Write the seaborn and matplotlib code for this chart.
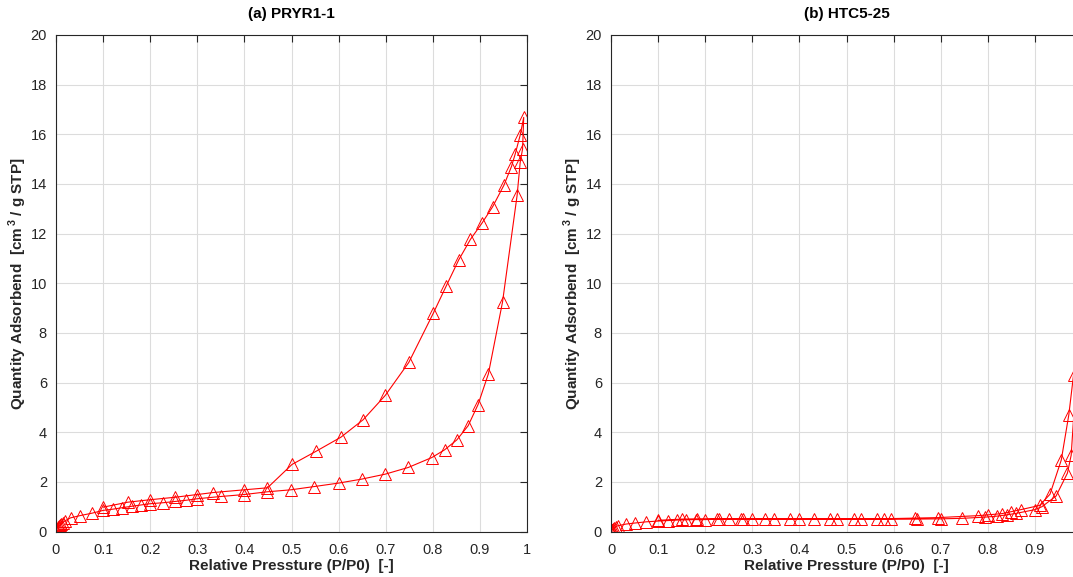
import numpy as np
import pandas as pd
import matplotlib
matplotlib.use("Agg")
import matplotlib.pyplot as plt
import seaborn as sns

# =========================
# DATA
# =========================
# (a) PRYR1-1 : adsorption branch then desorption branch
a_ads_p = [0.0005, 0.001, 0.002, 0.004, 0.006, 0.008, 0.010, 0.014, 0.020, 0.031,
           0.051, 0.077, 0.100, 0.121, 0.141, 0.162, 0.181, 0.200, 0.228, 0.253,
           0.277, 0.300, 0.350, 0.400, 0.449, 0.499, 0.548, 0.600, 0.649, 0.699,
           0.748, 0.798, 0.825, 0.851, 0.875, 0.896, 0.918, 0.948, 0.979, 0.9856,
           0.9906, 0.993]
a_ads_q = [0.05, 0.08, 0.12, 0.17, 0.22, 0.26, 0.30, 0.36, 0.44, 0.55,
           0.64, 0.74, 0.85, 0.90, 0.96, 1.02, 1.07, 1.12, 1.16, 1.21,
           1.26, 1.32, 1.41, 1.49, 1.60, 1.68, 1.81, 1.95, 2.11, 2.31,
           2.58, 2.98, 3.29, 3.69, 4.26, 5.11, 6.35, 9.24, 13.54, 14.88,
           15.41, 16.68]
a_des_p = [0.9856, 0.975, 0.967, 0.951, 0.927, 0.904, 0.880, 0.855, 0.828, 0.801,
           0.749, 0.699, 0.652, 0.605, 0.552, 0.501, 0.449, 0.400, 0.334, 0.300,
           0.253, 0.200, 0.152, 0.100]
a_des_q = [15.97, 15.21, 14.70, 13.95, 13.08, 12.41, 11.77, 10.94, 9.87, 8.79,
           6.81, 5.48, 4.50, 3.80, 3.23, 2.70, 1.76, 1.68, 1.57, 1.49,
           1.38, 1.28, 1.18, 0.98]

# (b) HTC5-25 : adsorption branch then desorption branch
b_ads_p = [0.0005, 0.001, 0.002, 0.003, 0.005, 0.007, 0.010, 0.014, 0.032, 0.050,
           0.075, 0.100, 0.120, 0.140, 0.160, 0.180, 0.200, 0.225, 0.250, 0.275,
           0.300, 0.347, 0.400, 0.465, 0.530, 0.580, 0.650, 0.700, 0.745, 0.795,
           0.820, 0.840, 0.860, 0.900, 0.915, 0.945, 0.969, 0.977, 0.994, 0.997]
b_ads_q = [0.02, 0.04, 0.06, 0.08, 0.11, 0.14, 0.18, 0.23, 0.30, 0.34,
           0.39, 0.42, 0.44, 0.46, 0.47, 0.48, 0.48, 0.49, 0.49, 0.49,
           0.49, 0.49, 0.49, 0.49, 0.49, 0.49, 0.50, 0.51, 0.53, 0.58,
           0.62, 0.67, 0.73, 0.88, 1.00, 1.43, 2.35, 3.07, 8.00, 9.00]
b_des_p = [0.982, 0.972, 0.956, 0.932, 0.910, 0.870, 0.850, 0.830, 0.800, 0.780,
           0.695, 0.645, 0.595, 0.565, 0.515, 0.480, 0.430, 0.380, 0.327, 0.280,
           0.230, 0.182, 0.150, 0.100]
b_des_q = [6.30, 4.70, 2.88, 1.50, 1.05, 0.88, 0.80, 0.72, 0.67, 0.64,
           0.56, 0.54, 0.52, 0.52, 0.52, 0.52, 0.52, 0.52, 0.52, 0.52,
           0.52, 0.51, 0.50, 0.45]

panels = [
    ("(a) PRYR1-1", a_ads_p + a_des_p, a_ads_q + a_des_q),
    ("(b) HTC5-25", b_ads_p + b_des_p, b_ads_q + b_des_q),
]

# =========================
# STYLE
# =========================
sns.set_style("white")
plt.rcParams["font.family"] = ["Liberation Sans", "DejaVu Sans"]
plt.rcParams["mathtext.fontset"] = "custom"
plt.rcParams["mathtext.rm"] = "Liberation Sans"
plt.rcParams["mathtext.bf"] = "Liberation Sans:bold"

txt = "#262626"
fig = plt.figure(figsize=(10.73, 5.77), dpi=100)

# right panel runs slightly past the figure edge, as in the cropped reference
positions = [[56 / 1073, 1 - 531.5 / 577, 471 / 1073, 496.5 / 577],
             [611 / 1073, 1 - 531.5 / 577, 471 / 1073, 496.5 / 577]]

for i, (pos, (title, p, q)) in enumerate(zip(positions, panels)):
    ax = fig.add_axes(pos)
    df = pd.DataFrame({"p": p, "q": q})
    sns.lineplot(data=df, x="p", y="q", ax=ax, sort=False, estimator=None,
                 color="red", lw=0.8, marker="^", markersize=8,
                 markerfacecolor="none", markeredgecolor="red", markeredgewidth=0.7)

    ax.set_xlim(0, 1)
    ax.set_ylim(0, 20)
    xt = np.arange(0, 1.01, 0.1)
    ax.set_xticks(xt)
    # last label of the right panel falls outside the cropped figure
    ax.set_xticklabels([f"{v:g}" if (i == 0 or v < 0.95) else "" for v in xt])
    ax.set_yticks(np.arange(0, 21, 2))
    ax.grid(True, color="#dcdcdc", lw=0.8)
    ax.tick_params(direction="in", top=True, right=True, length=5, width=0.8,
                   colors=txt, labelsize=10.5)
    ax.tick_params(axis="x", pad=8)
    ax.tick_params(axis="y", pad=6.5)
    for s in ax.spines.values():
        s.set_color(txt)
        s.set_linewidth(0.8)

    ax.set_title(title, fontsize=11, fontweight="bold", color="black", pad=12)
    ax.set_xlabel("Relative Pressture (P/P0)  [-]", fontsize=11,
                  fontweight="bold", color=txt, labelpad=2)
    ax.set_ylabel(r"Quantity Adsorbend  [cm$^{\,\mathbf{3}}$ / g STP]", fontsize=11,
                  fontweight="bold", color=txt, labelpad=1)

plt.savefig("out.png", dpi=100)
